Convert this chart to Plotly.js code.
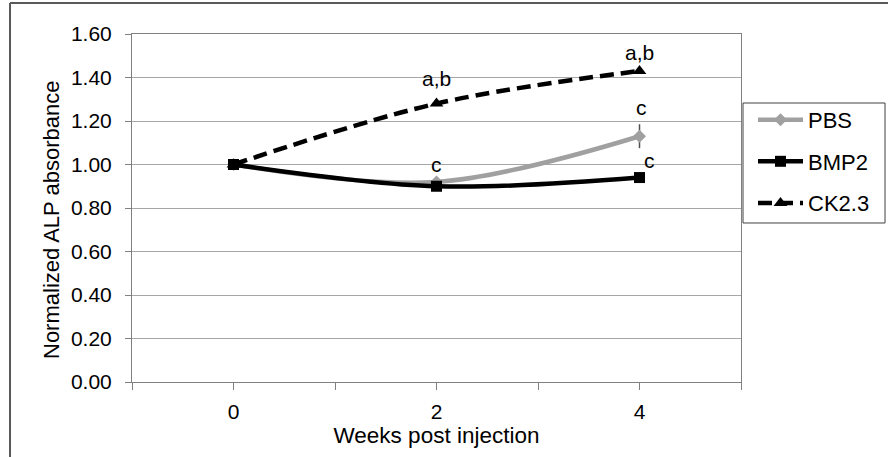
<!DOCTYPE html>
<html>
<head>
<meta charset="utf-8">
<script src="https://cdn.plot.ly/plotly-3.0.1.min.js"></script>
<style>
  html, body { margin: 0; padding: 0; background: #ffffff; }
  #chart { width: 888px; height: 457px; }
</style>
</head>
<body>
<div id="chart"></div>
<script>
// ---- data ----
const weeks = [0, 2, 4];
const pbs = [1.00, 0.92, 1.13];
const bmp2 = [1.00, 0.90, 0.94];
const ck23 = [1.00, 1.28, 1.43];
const pbsErr = [0, 0.01, 0.055];
const seriesNames = ['PBS', 'BMP2', 'CK2.3'];
const xTickVals = [-1, 0, 1, 2, 3, 4, 5];
const xTickText = ['', '0', '', '2', '', '4', ''];
const yTickVals = [0, 0.2, 0.4, 0.6, 0.8, 1.0, 1.2, 1.4, 1.6];
const sigLabels = ['a,b', 'a,b', 'c', 'c', 'c'];
const xTitle = 'Weeks post injection';
const yTitle = 'Normalized ALP absorbance';

const FONT = 'Liberation Sans, Arial, sans-serif';

const traces = [
  {
    x: weeks, y: pbs, name: seriesNames[0], type: 'scatter', mode: 'lines+markers',
    legendgroup: 'g1',
    line: { color: '#a0a0a0', width: 4.5, shape: 'spline', smoothing: 1 },
    marker: { symbol: 'diamond', size: 10, color: '#a0a0a0' },
    error_y: { type: 'data', array: pbsErr, visible: true, color: '#505050', thickness: 1.5, width: 0 }
  },
  {
    x: weeks, y: bmp2, name: seriesNames[1], type: 'scatter', mode: 'lines+markers',
    legendgroup: 'g2',
    line: { color: '#000000', width: 4.5, shape: 'spline', smoothing: 1 },
    marker: { symbol: 'square', size: 11, color: '#000000' }
  },
  {
    x: weeks, y: ck23, name: seriesNames[2], type: 'scatter', mode: 'lines+markers',
    legendgroup: 'g3',
    line: { color: '#000000', width: 4.5, dash: '14px,7px', shape: 'spline', smoothing: 1 },
    marker: { symbol: 'triangle-up', size: 12, color: '#000000' }
  }
];

const annFont = { family: FONT, size: 21, color: '#000000' };
const annotations = [
  { x: weeks[1], y: ck23[1], text: sigLabels[0], yshift: 25, xshift: 0 },
  { x: weeks[2], y: ck23[2], text: sigLabels[1], yshift: 18, xshift: 0 },
  { x: weeks[2], y: pbs[2], text: sigLabels[2], yshift: 29, xshift: 2 },
  { x: weeks[1], y: pbs[1], text: sigLabels[3], yshift: 17, xshift: 0 },
  { x: weeks[2], y: bmp2[2], text: sigLabels[4], yshift: 17, xshift: 10 }
].map(a => Object.assign({ xref: 'x', yref: 'y', showarrow: false, font: annFont,
  xanchor: 'center', yanchor: 'middle' }, a));

annotations.push({
  xref: 'paper', yref: 'paper', x: -0.133, y: 0.4655, xanchor: 'center', yanchor: 'middle',
  text: yTitle, textangle: -90, showarrow: false,
  font: { family: FONT, size: 22, color: '#000000' }
});

const layout = {
  width: 888, height: 457,
  margin: { l: 132, r: 147, t: 34, b: 75, pad: 0 },
  paper_bgcolor: '#ffffff', plot_bgcolor: '#ffffff',
  font: { family: FONT, size: 21, color: '#000000' },
  showlegend: true,
  legend: {
    x: 1.0197, xanchor: 'left', y: 0.8135, yanchor: 'top',
    borderwidth: 0, bgcolor: 'rgba(0,0,0,0)',
    font: { family: FONT, size: 22, color: '#000000' },
    itemwidth: 45, tracegroupgap: 10, traceorder: 'grouped'
  },
  xaxis: {
    range: [-1, 5], tickmode: 'array', tickvals: xTickVals, ticktext: xTickText,
    showgrid: false, zeroline: false,
    showline: true, linecolor: '#808080', linewidth: 1, mirror: true,
    ticks: 'outside', ticklen: 7, tickcolor: '#808080', tickwidth: 1,
    ticklabelstandoff: 4,
    tickfont: { family: FONT, size: 21, color: '#000000' },
    title: { text: xTitle, font: { family: FONT, size: 22.5, color: '#000000' }, standoff: 4 }
  },
  yaxis: {
    range: [0, 1.6], tickmode: 'array', tickvals: yTickVals,
    tickformat: '.2f',
    showgrid: true, gridcolor: '#a6a6a6', gridwidth: 1, zeroline: false,
    showline: true, linecolor: '#808080', linewidth: 1, mirror: true,
    ticks: 'outside', ticklen: 6, tickcolor: '#808080', tickwidth: 1,
    ticklabelstandoff: 9,
    tickfont: { family: FONT, size: 21, color: '#000000' }
  },
  annotations: annotations,
  shapes: [
    // outer chart-area frame (left and top edges visible)
    { type: 'line', xref: 'paper', yref: 'paper', x0: -0.2003, x1: -0.2003, y0: 1.089, y1: -0.3,
      line: { color: '#595959', width: 2 } },
    { type: 'line', xref: 'paper', yref: 'paper', x0: -0.2003, x1: 1.3, y0: 1.089, y1: 1.089,
      line: { color: '#595959', width: 2 } },
    // legend box
    { type: 'rect', xref: 'paper', yref: 'paper', x0: 1.0033, x1: 1.2365, y0: 0.4569, y1: 0.8017,
      line: { color: '#404040', width: 1 }, fillcolor: 'rgba(0,0,0,0)' }
  ]
};

Plotly.newPlot('chart', traces, layout, { displayModeBar: false, staticPlot: true });
</script>
</body>
</html>
